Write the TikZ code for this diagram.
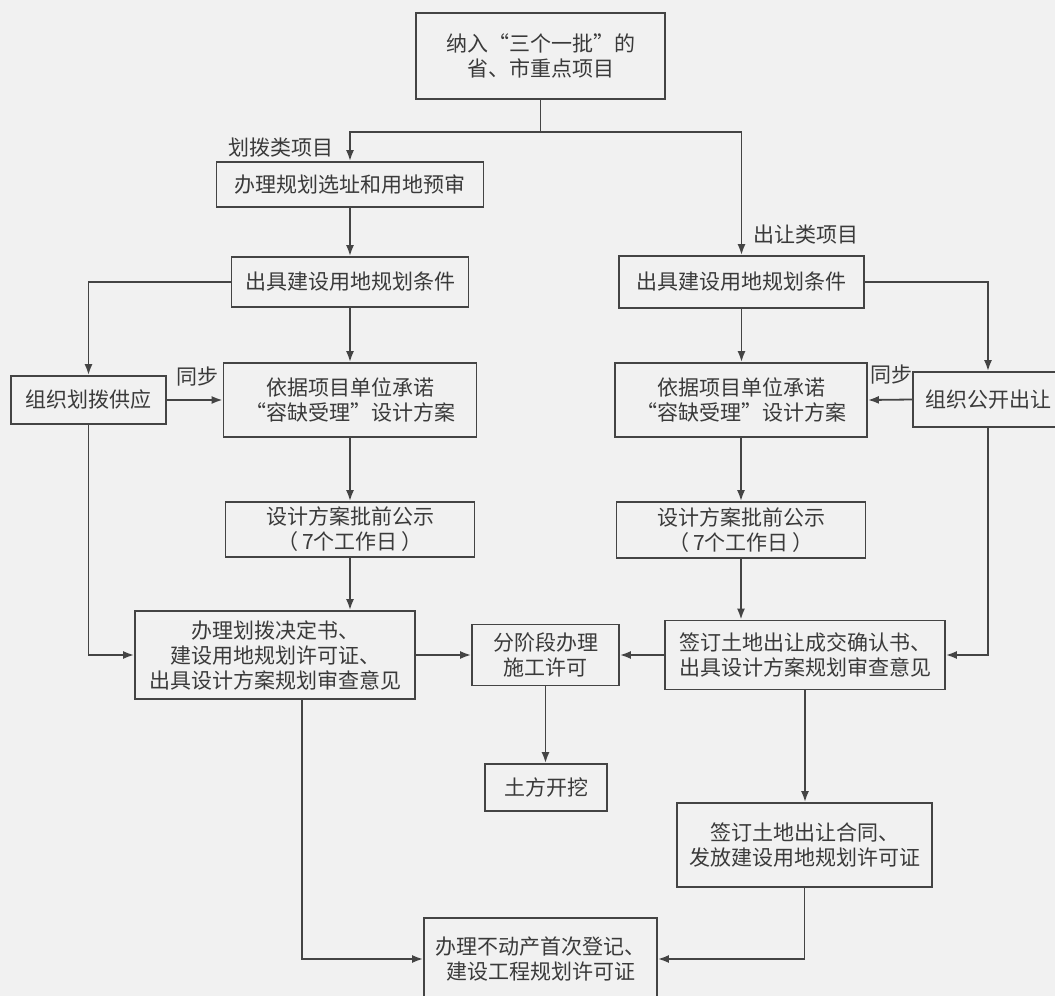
\documentclass[tikz,border=0pt]{standalone}
\usepackage{fontspec}
\setmainfont{Noto Sans CJK SC}
\usetikzlibrary{arrows.meta}
\definecolor{bgc}{RGB}{241,241,241}
\definecolor{lnc}{RGB}{68,68,68}
\definecolor{txc}{RGB}{58,58,58}
\begin{document}
\begin{tikzpicture}[x=1pt,y=-1pt,
  box/.style={draw=lnc, line width=1.8pt, text=txc, align=center, inner sep=0pt,
    font=\fontsize{21}{25}\selectfont},
  sz/.style 2 args={minimum width=#1pt, minimum height=#2pt},
  lbl/.style={text=txc, inner sep=0pt, font=\fontsize{21}{25}\selectfont},
  arr/.style={draw=lnc, line width=1.8pt, -{Latex[length=11pt,width=8pt]}}
]
\useasboundingbox (0,0) rectangle (1055,996);
\clip (0,0) rectangle (1055,996);
\fill[bgc] (0,0) rectangle (1055,996);

% boxes
\node[box, sz={249}{86}] (top) at (540.5,56) {纳入“三个一批”的\\省、市重点项目};
\node[box, sz={267}{45}] (xz) at (350,184.5) {办理规划选址和用地预审};
\node[box, sz={237}{50}] (tjL) at (350,282) {出具建设用地规划条件};
\node[box, sz={245}{52}] (tjR) at (741.5,282) {出具建设用地规划条件};
\node[box, sz={155}{48}] (hbgy) at (88.5,400) {组织划拨供应};
\node[box, sz={253}{74}] (yjL) at (350,400) {依据项目单位承诺\\“容缺受理”设计方案};
\node[box, sz={252}{74}] (yjR) at (741,400) {依据项目单位承诺\\“容缺受理”设计方案};
\node[box, sz={150}{55}] (gkcr) at (988,399.5) {组织公开出让};
\node[box, sz={249}{55}] (gsL) at (350,529.5) {设计方案批前公示\\（\,7个工作日\,）};
\node[box, sz={249}{56}] (gsR) at (741,530) {设计方案批前公示\\（\,7个工作日\,）};
\node[box, sz={280}{88}] (hbjd) at (275,655) {办理划拨决定书、\\建设用地规划许可证、\\出具设计方案规划审查意见};
\node[box, sz={147}{61}] (fjd) at (545.5,655) {分阶段办理\\施工许可};
\node[box, sz={280}{69}] (qdcj) at (805,655) {签订土地出让成交确认书、\\出具设计方案规划审查意见};
\node[box, sz={122}{47}] (tfkw) at (546,787.5) {土方开挖};
\node[box, sz={255}{84}] (qdht) at (804.5,845) {签订土地出让合同、\\发放建设用地规划许可证};
\node[box, sz={233}{82}] (bdc) at (540.5,959) {办理不动产首次登记、\\建设工程规划许可证};

% labels
\node[lbl, anchor=east] (l1) at (334,148) {划拨类项目};
\node[lbl, anchor=west] (l2) at (753,235) {出让类项目};
\node[lbl] (l3) at (197.5,377) {同步};
\node[lbl] (l4) at (891,375) {同步};

% connectors
\draw[arr] (top.south) -- ++(0,32) -| (xz.north);
\draw[arr] (top.south) -- ++(0,32) -| (tjR.north);
\draw[arr] (xz.south) -- (tjL.north);
\draw[arr] (tjL.west) -| (hbgy.north);
\draw[arr] (tjL.south) -- (yjL.north);
\draw[arr] (hbgy.east) -- (yjL.west);
\draw[arr] (yjL.south) -- (gsL.north);
\draw[arr] (gsL.south) -- (gsL.south |- hbjd.north);
\draw[arr] (hbgy.south) |- (hbjd.west);
\draw[arr] (hbjd.east) -- (fjd.west);
\draw[arr] (fjd.south) -- (fjd.south |- tfkw.north);
\draw[arr] ([xshift=27pt]hbjd.south) |- (bdc.west);

\draw[arr] (tjR.south) -- (tjR.south |- yjR.north);
\draw[arr] (tjR.east) -| (gkcr.north);
\draw[arr] (gkcr.west) -- (yjR.east);
\draw[arr] (yjR.south) -- (yjR.south |- gsR.north);
\draw[arr] (gsR.south) -- (gsR.south |- qdcj.north);
\draw[arr] (gkcr.south) |- (qdcj.east);
\draw[arr] (qdcj.west) -- (fjd.east);
\draw[arr] (qdcj.south) -- (qdcj.south |- qdht.north);
\draw[arr] (qdht.south) |- (bdc.east);
\end{tikzpicture}
\end{document}
